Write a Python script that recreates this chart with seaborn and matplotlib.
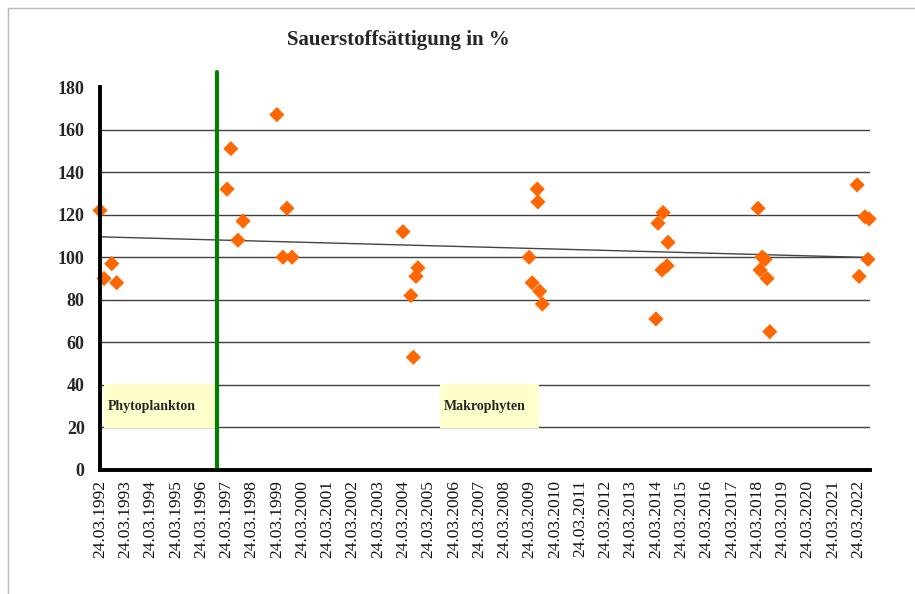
import numpy as np
import pandas as pd
import matplotlib
matplotlib.use('Agg')
import matplotlib.pyplot as plt
import matplotlib.dates as mdates
from matplotlib.patches import Rectangle
import seaborn as sns

datum = [
    '1992-03-24', '1992-05-21', '1992-09-10', '1992-11-20',
    '1997-04-03', '1997-05-28', '1997-09-08', '1997-11-20',
    '1999-03-24', '1999-06-20', '1999-08-17', '1999-10-30',
    '2004-03-20', '2004-07-12', '2004-08-17', '2004-09-24', '2004-10-22',
    '2009-03-17', '2009-04-30', '2009-07-12', '2009-07-23', '2009-08-17', '2009-09-24',
    '2014-03-24', '2014-04-22', '2014-06-20', '2014-07-05', '2014-09-01', '2014-09-15',
    '2018-04-08', '2018-05-07', '2018-06-05', '2018-07-18', '2018-08-17', '2018-09-24',
    '2022-03-10', '2022-04-08', '2022-07-01', '2022-08-14', '2022-08-30',
]
saettigung = [
    122, 90, 97, 88,
    132, 151, 108, 117,
    167, 100, 123, 100,
    112, 82, 53, 91, 95,
    100, 88, 132, 126, 84, 78,
    71, 116, 94, 121, 96, 107,
    123, 94, 100, 99, 90, 65,
    134, 91, 119, 99, 118,
]

jahre = list(range(1992, 2023))
tick_datum = [pd.Timestamp(j, 3, 24) for j in jahre]
tick_labels = [f'24.03.{j}' for j in jahre]

grenze = pd.Timestamp('1996-11-10')   # Wechsel Phytoplankton -> Makrophyten
x_start = pd.Timestamp('1992-03-24')
x_ende = pd.Timestamp('2022-09-12')

df = pd.DataFrame({'datum': pd.to_datetime(datum), 'wert': saettigung})

sns.set_style('white')
plt.rcParams['font.family'] = ['Liberation Serif', 'DejaVu Serif']

fig = plt.figure(figsize=(9.15, 5.94), dpi=100)
ax = fig.add_axes([100 / 915, 1 - 470 / 594, 770 / 915, 383 / 594])

# Gitterlinien
for g in range(20, 180, 20):
    ax.axhline(g, color='#404040', lw=1, zorder=1)

# Textfelder
for x0, x1, txt in [('1992-05-20', '1996-11-10', 'Phytoplankton'),
                    ('2005-09-05', '2009-08-07', 'Makrophyten')]:
    a, b = mdates.date2num(pd.Timestamp(x0)), mdates.date2num(pd.Timestamp(x1))
    ax.add_patch(Rectangle((a, 19.6), b - a, 20.8, facecolor='#FFFFCC',
                           edgecolor='none', zorder=2))
    ax.text(a + 60, 30, txt, fontsize=10, fontweight='bold', va='center',
            ha='left', zorder=3)

# Trendlinie
xn = mdates.date2num(df['datum'])
k, d = np.polyfit(xn, df['wert'], 1)
xt = np.array([xn.min(), xn.max()])
ax.plot(mdates.num2date(xt), k * xt + d, color='#444444', lw=1, zorder=3)

sns.scatterplot(data=df, x='datum', y='wert', marker='D', s=60,
                color='#FF6600', edgecolor='none', ax=ax, zorder=4,
                clip_on=False)

# Grenzlinie
ax.plot([grenze, grenze], [0, 187], color='#008000', lw=3, zorder=5,
        clip_on=False)

ax.set_xlim(x_start, x_ende)
ax.set_ylim(0, 180)
ax.set_xticks(tick_datum)
ax.set_xticklabels(tick_labels, rotation=90, fontsize=12.5, color='#111111')
ax.set_yticks(range(0, 181, 20))
ax.set_yticklabels([str(v) for v in range(0, 181, 20)], fontsize=13,
                   fontweight='bold')
ax.set_xlabel('')
ax.set_ylabel('')

for s in ['top', 'right']:
    ax.spines[s].set_visible(False)
for s in ['left', 'bottom']:
    ax.spines[s].set_linewidth(2.8)
    ax.spines[s].set_color('black')
    ax.spines[s].set_zorder(6)
ax.tick_params(axis='x', direction='out', length=4, width=2.5,
               color='black', pad=3)
ax.tick_params(axis='y', direction='out', length=5, width=2.5,
               color='black', pad=6)

fig.text(398 / 915, 1 - 40 / 594, 'Sauerstoffsättigung in %', ha='center',
         va='center', fontsize=15, fontweight='bold')

# Rahmen des Diagrammbereichs
fig.add_artist(plt.Line2D([8 / 915, 8 / 915], [0, 1 - 8 / 594],
                          color='#BBBBBB', lw=1, transform=fig.transFigure))
fig.add_artist(plt.Line2D([8 / 915, 1], [1 - 8 / 594, 1 - 8 / 594],
                          color='#BBBBBB', lw=1, transform=fig.transFigure))

fig.savefig('out.png', dpi=100)
